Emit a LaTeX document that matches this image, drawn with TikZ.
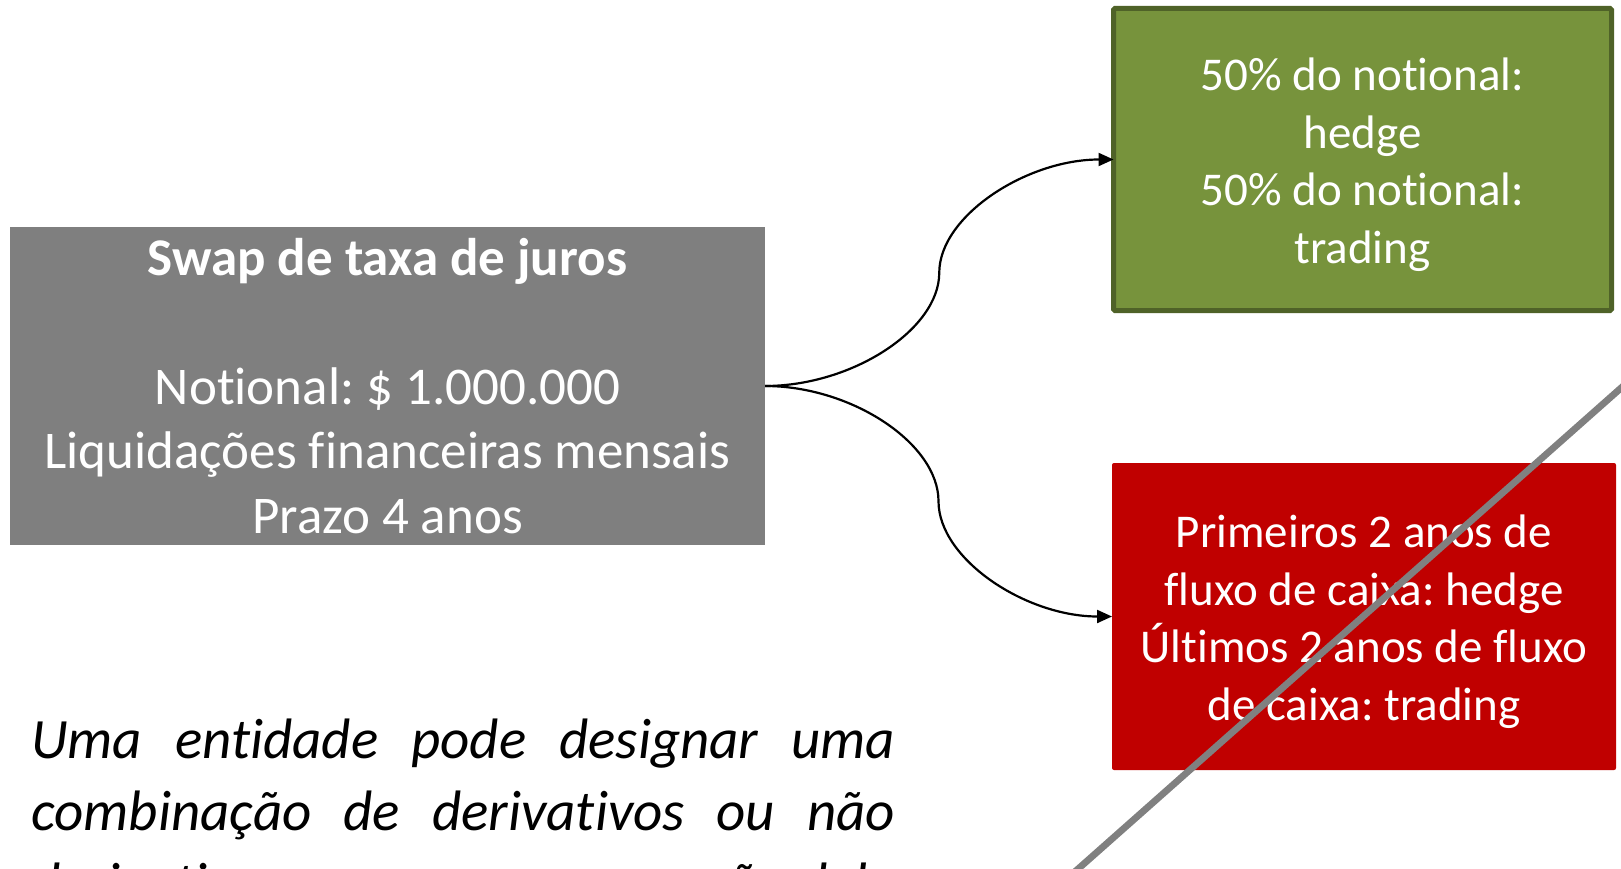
\documentclass[tikz,border=0pt]{standalone}
\usepackage{fontspec}
\setmainfont{Carlito}[Ligatures={NoCommon}]
\usetikzlibrary{arrows.meta,calc}
\definecolor{boxgray}{HTML}{7F7F7F}
\definecolor{oliv}{HTML}{77933C}
\definecolor{olivdark}{HTML}{4F6228}
\definecolor{redbox}{HTML}{C00000}
\definecolor{slash}{HTML}{808080}
\frenchspacing
\begin{document}
\begin{tikzpicture}[x=1pt,y=-1pt,
  boxbase/.style={rectangle, inner sep=0pt, outer sep=0pt, align=center, text=white},
  boxtext/.style={inner sep=0pt, align=center, text=white, font=\fontsize{47}{57.5}\selectfont},
  conn/.style={draw=black, line width=2.2pt, -{Triangle[length=15pt,width=13pt]}},
  bodytext/.style={anchor=base west, inner sep=0pt, font=\fontsize{57}{72}\selectfont\itshape},
]
\useasboundingbox (0,0) rectangle (1621,869);

\node[boxbase, fill=boxgray, minimum width=755pt, minimum height=318pt,
      font=\fontsize{53}{64.4}\selectfont] (swap) at (387.5,386)
  {\textbf{Swap de taxa de juros}\\\mbox{}\\Notional: \$ 1.000.000\\Liquidações financeiras mensais\\Prazo 4 anos};

\node[boxbase, fill=oliv, draw=olivdark, line width=5pt, rounded corners=1.5pt,
      minimum width=498pt, minimum height=302pt] (hedge) at (1362.5,159.5) {};
\node[boxtext] (hedgetxt) at ($(hedge.center)+(0,5)$)
  {50\% do notional:\\hedge\\50\% do notional:\\trading};

\node[boxbase, fill=redbox, rounded corners=2pt, minimum width=504pt, minimum height=307pt] (fluxo) at (1364,616.5) {};
\node[boxtext] (fluxotxt) at ($(fluxo.center)+(0,5)$)
  {Primeiros 2 anos de\\fluxo de caixa: hedge\\Últimos 2 anos de fluxo\\de caixa: trading};

% curved connectors
\coordinate (a1) at ($(swap.east)!0.25!(hedge.west)$);
\coordinate (a2) at ($(swap.east)!0.5!(hedge.west)$);
\coordinate (a3) at ($(swap.east)!0.75!(hedge.west)$);
\draw[conn] (swap.east) .. controls (a1 |- swap.east) and (a2 |- a1) .. (a2)
  .. controls (a2 |- a3) and (a3 |- hedge.west) .. (hedge.west);

\coordinate (b1) at ($(swap.east)!0.25!(fluxo.west)$);
\coordinate (b2) at ($(swap.east)!0.5!(fluxo.west)$);
\coordinate (b3) at ($(swap.east)!0.75!(fluxo.west)$);
\draw[conn] (swap.east) .. controls (b1 |- swap.east) and (b2 |- b1) .. (b2)
  .. controls (b2 |- b3) and (b3 |- fluxo.west) .. (fluxo.west);

% body text (cut at the bottom)
\node[bodytext] (t1) at (31,758) {\makebox[864pt][s]{Uma entidade pode designar uma}};
\node[bodytext] (t2) at (31,830) {\makebox[864pt][s]{combinação de derivativos ou não}};
\node[bodytext] (t3) at (31,902) {\makebox[864pt][s]{derivativos como uma proporção dele}};

% diagonal strike line
\begin{scope}
  \clip (0,0) rectangle (1621,869);
  \draw[slash, line width=6.8pt] (1675.3,339.9) -- (1023.7,917.1);
\end{scope}
\end{tikzpicture}
\end{document}
